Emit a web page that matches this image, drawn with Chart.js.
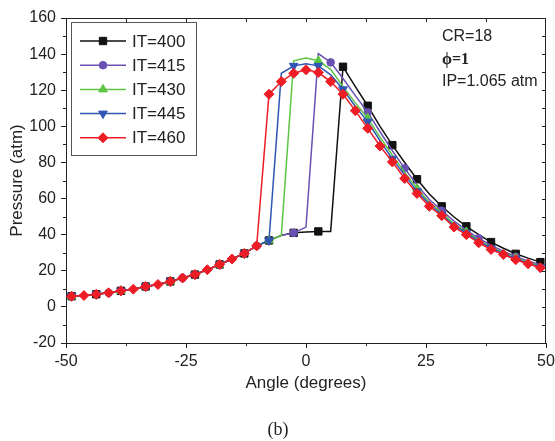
<!DOCTYPE html>
<html>
<head>
<meta charset="utf-8">
<script src="https://cdn.jsdelivr.net/npm/chart.js@4.4.0/dist/chart.umd.min.js"></script>
<style>
  body { margin: 0; background: #fff; }
  canvas { display: block; }
</style>
</head>
<body>
<canvas id="pressureChart" width="555" height="441"></canvas>
<script>
// crank angle (degrees), one sample every ~2.57 deg
var angles = [-48.83, -46.26, -43.69, -41.12, -38.55, -35.98, -33.41, -30.84, -28.27, -25.70,
  -23.13, -20.56, -17.99, -15.42, -12.85, -10.28, -7.71, -5.14, -2.57, 0,
  2.57, 5.14, 7.71, 10.28, 12.85, 15.42, 17.99, 20.56, 23.13, 25.70,
  28.27, 30.84, 33.41, 35.98, 38.55, 41.12, 43.69, 46.26, 48.83];

var seriesNames = ['IT=400', 'IT=415', 'IT=430', 'IT=445', 'IT=460'];

// pressure (atm)
var it400 = [5.9, 6.3, 7.0, 7.8, 8.9, 9.8, 11.3, 12.4, 14.1, 16.0,
  17.9, 20.6, 23.5, 26.5, 29.6, 33.8, 36.8, 39.6, 41.0, 41.5,
  41.8, 41.8, 133.0, 122.0, 111.4, 100.0, 89.6, 80.0, 70.7, 62.5,
  55.7, 49.8, 44.6, 40.0, 35.9, 32.5, 29.4, 27.0, 24.8];
var it415 = [5.9, 6.3, 7.0, 7.8, 8.9, 9.8, 11.3, 12.4, 14.1, 16.0,
  17.9, 20.6, 23.5, 26.5, 29.6, 33.8, 36.8, 39.6, 41.0, 44.2,
  140.2, 135.4, 126.5, 117.0, 107.8, 97.0, 86.5, 76.7, 67.5, 59.5,
  53.3, 47.5, 42.5, 38.0, 34.0, 30.8, 27.8, 25.5, 23.3];
var it430 = [5.9, 6.3, 7.0, 7.8, 8.9, 9.8, 11.3, 12.4, 14.1, 16.0,
  17.9, 20.6, 23.5, 26.5, 29.6, 33.8, 36.8, 39.6, 136.3, 137.8,
  136.3, 131.6, 122.0, 113.0, 104.5, 94.0, 84.0, 74.5, 65.5, 58.0,
  52.0, 46.0, 41.5, 37.0, 33.0, 30.0, 27.0, 24.7, 22.5];
var it445 = [5.9, 6.3, 7.0, 7.8, 8.9, 9.8, 11.3, 12.4, 14.1, 16.0,
  17.9, 20.6, 23.5, 26.5, 29.6, 33.8, 36.8, 129.4, 133.5, 134.6,
  133.5, 128.5, 120.5, 111.0, 102.6, 92.0, 82.0, 73.0, 64.0, 57.0,
  51.0, 45.0, 41.0, 36.3, 32.5, 29.5, 26.5, 24.2, 22.0];
var it460 = [5.9, 6.3, 7.0, 7.8, 8.9, 9.8, 11.3, 12.4, 14.1, 16.0,
  17.9, 20.6, 23.5, 26.5, 29.6, 33.8, 117.8, 124.8, 129.4, 131.3,
  129.8, 124.8, 117.8, 108.7, 98.9, 89.1, 80.3, 71.1, 62.8, 55.7,
  50.5, 44.2, 40.0, 35.5, 31.8, 29.0, 26.1, 23.9, 21.7];

var notes = ['CR=18', '\u03d5=1', 'IP=1.065 atm'];

function pts(vals) {
  return angles.map(function (a, i) { return { x: a, y: vals[i] }; });
}

function makeSet(label, vals, color, style, rot, r, every, order) {
  return {
    label: label,
    data: pts(vals),
    borderColor: color,
    backgroundColor: color,
    borderWidth: 1.5,
    pointStyle: style,
    pointRotation: rot,
    pointBorderWidth: 1,
    pointRadius: function (c) { return c.dataIndex % every === 0 ? r : 0; },
    pointHoverRadius: r,
    tension: 0,
    order: order
  };
}

var datasets = [
  makeSet(seriesNames[0], it400, '#111111', 'rect', 0, 5.2, 2, 5),
  makeSet(seriesNames[1], it415, '#6a50b2', 'circle', 0, 3.8, 3, 4),
  makeSet(seriesNames[2], it430, '#5cc544', 'triangle', 0, 5, 4, 3),
  makeSet(seriesNames[3], it445, '#2f55b5', 'triangle', 180, 5, 2, 2),
  makeSet(seriesNames[4], it460, '#ee1d25', 'rectRot', 0, 5, 1, 1)
];

function drawMarker(ctx, ds, x, y) {
  var opts = { pointStyle: ds.pointStyle, rotation: ds.pointRotation, radius: ds.pointHoverRadius, borderWidth: 1 };
  ctx.fillStyle = ds.backgroundColor;
  ctx.strokeStyle = ds.borderColor;
  ctx.lineWidth = 1;
  if (Chart.helpers && Chart.helpers.drawPoint) {
    Chart.helpers.drawPoint(ctx, opts, x, y);
  } else {
    ctx.beginPath(); ctx.arc(x, y, 4, 0, Math.PI * 2); ctx.fill();
  }
}

var extras = {
  id: 'extras',
  afterDraw: function (chart) {
    var ctx = chart.ctx, a = chart.chartArea, xs = chart.scales.x, ys = chart.scales.y;
    var v, p;
    ctx.save();
    ctx.strokeStyle = '#222';
    ctx.lineWidth = 1;
    ctx.beginPath();
    // top and right frame
    ctx.moveTo(a.left, a.top + 0.5); ctx.lineTo(a.right, a.top + 0.5);
    ctx.moveTo(a.right - 0.5, a.top); ctx.lineTo(a.right - 0.5, a.bottom);
    // minor ticks bottom / left (outward)
    for (v = -37.5; v < 50; v += 25) {
      p = Math.round(xs.getPixelForValue(v)) + 0.5;
      ctx.moveTo(p, a.bottom); ctx.lineTo(p, a.bottom + 3);
    }
    for (v = -10; v < 160; v += 20) {
      p = Math.round(ys.getPixelForValue(v)) + 0.5;
      ctx.moveTo(a.left, p); ctx.lineTo(a.left - 3, p);
    }
    // inward ticks top / right
    for (v = -37.5; v < 50; v += 12.5) {
      p = Math.round(xs.getPixelForValue(v)) + 0.5;
      ctx.moveTo(p, a.top); ctx.lineTo(p, a.top + 4);
    }
    for (v = -10; v < 160; v += 10) {
      p = Math.round(ys.getPixelForValue(v)) + 0.5;
      ctx.moveTo(a.right, p); ctx.lineTo(a.right - 4, p);
    }
    ctx.stroke();

    // legend box
    ctx.fillStyle = '#fff';
    ctx.fillRect(71.5, 22.5, 125, 133);
    ctx.strokeStyle = '#555';
    ctx.strokeRect(71.5, 22.5, 125, 133);
    chart.data.datasets.forEach(function (ds, i) {
      var y = 41 + i * 24.2;
      ctx.strokeStyle = ds.borderColor;
      ctx.lineWidth = 1.5;
      ctx.beginPath(); ctx.moveTo(80, y); ctx.lineTo(126, y); ctx.stroke();
      drawMarker(ctx, ds, 103, y);
      ctx.fillStyle = '#222';
      ctx.font = '17px "Liberation Sans", Arial, sans-serif';
      ctx.textAlign = 'left';
      ctx.textBaseline = 'middle';
      ctx.fillText(ds.label, 132, y + 1);
    });

    // run conditions
    ctx.fillStyle = '#222';
    ctx.textAlign = 'left';
    ctx.textBaseline = 'middle';
    ctx.font = '16px "Liberation Sans", Arial, sans-serif';
    ctx.fillText(notes[0], 442, 37);
    ctx.font = 'bold 16px "Liberation Serif", serif';
    ctx.fillText(notes[1], 442, 60);
    ctx.font = '16px "Liberation Sans", Arial, sans-serif';
    ctx.fillText(notes[2], 442, 82);

    // caption
    ctx.textAlign = 'center';
    ctx.font = '18px "Liberation Serif", serif';
    ctx.fillText('(b)', 278, 430);
    ctx.restore();
  }
};

var tickFont = { family: '"Liberation Sans", Arial, sans-serif', size: 16 };
var titleFont = { family: '"Liberation Sans", Arial, sans-serif', size: 17 };

var ctx = document.getElementById('pressureChart').getContext('2d');
var chart = new Chart(ctx, {
  type: 'line',
  data: { datasets: datasets },
  plugins: [extras],
  options: {
    responsive: false,
    animation: false,
    devicePixelRatio: 1,
    layout: { padding: { left: 0, right: 9, top: 18, bottom: 0 } },
    plugins: { legend: { display: false }, tooltip: { enabled: false } },
    scales: {
      x: {
        type: 'linear',
        min: -50, max: 50,
        ticks: { stepSize: 25, color: '#222', font: tickFont, padding: 4, maxRotation: 0 },
        grid: { drawOnChartArea: false, drawTicks: true, tickLength: 5, color: '#222' },
        border: { color: '#222', width: 1 },
        title: { display: true, text: 'Angle (degrees)', color: '#222', font: titleFont, padding: { top: 0, bottom: 47 } },
        afterFit: function (s) { s.height = 98; s.paddingLeft = 0; s.paddingRight = 0; }
      },
      y: {
        min: -20, max: 160,
        ticks: { stepSize: 20, color: '#222', font: tickFont, padding: 5 },
        grid: { drawOnChartArea: false, drawTicks: true, tickLength: 5, color: '#222' },
        border: { color: '#222', width: 1 },
        title: { display: true, text: 'Pressure (atm)', color: '#222', font: titleFont, padding: { top: 7, bottom: 0 } },
        afterFit: function (s) { s.width = 66; }
      }
    }
  }
});
</script>
</body>
</html>
